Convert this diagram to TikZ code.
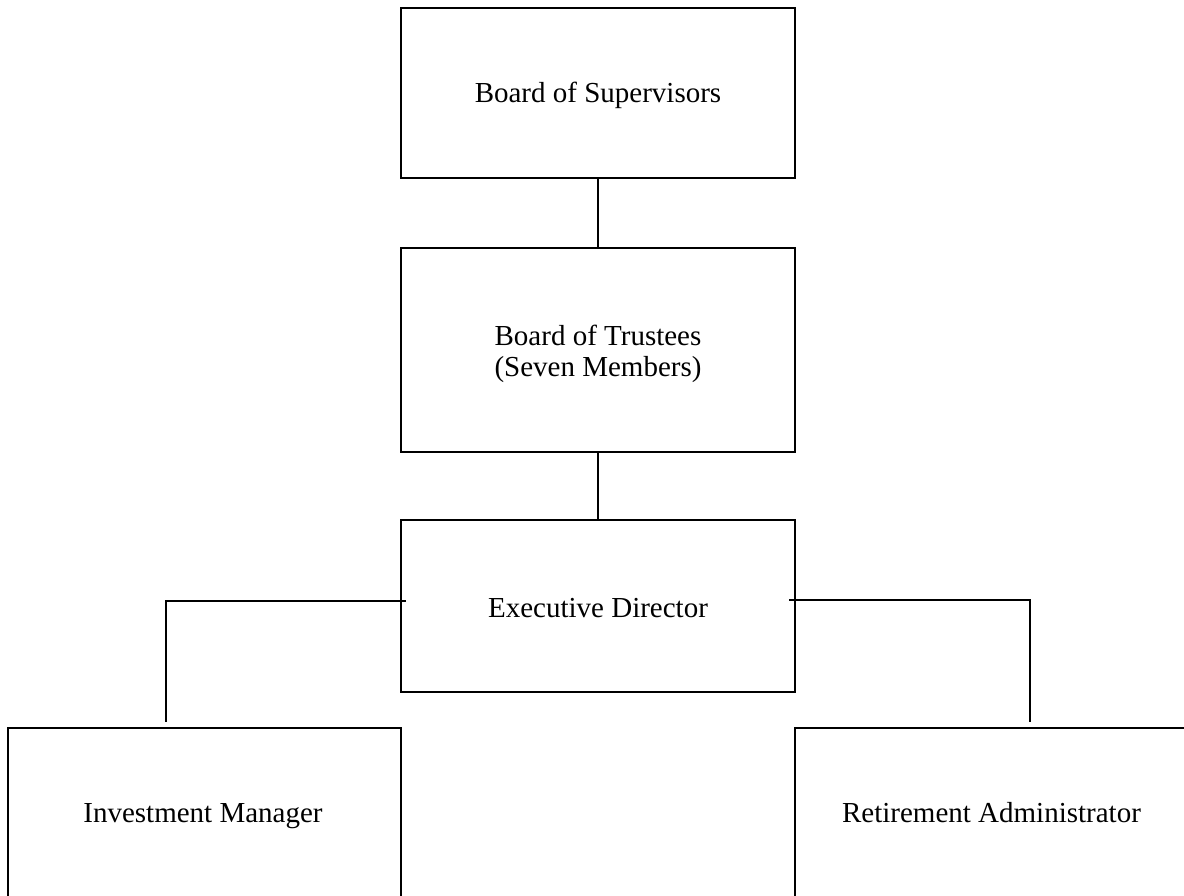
\documentclass[tikz,border=0pt]{standalone}
\usepackage{fontspec}
\setmainfont{Liberation Serif}
\usetikzlibrary{calc}
\begin{document}
\begin{tikzpicture}[x=1pt,y=-1pt,
  orgbox/.style={draw=black, line width=2pt, inner sep=0pt, outer sep=0pt},
  lbl/.style={anchor=base, inner sep=0pt, font=\fontsize{29}{31}\selectfont},
  conn/.style={draw=black, line width=2pt}]
\useasboundingbox (0,0) rectangle (1184,896);
\clip (0,0) rectangle (1184,896);
% boxes
\node[orgbox, minimum width=394pt, minimum height=170pt] (bos) at (598,93) {};
\node[orgbox, minimum width=394pt, minimum height=204pt] (bot) at (598,350) {};
\node[orgbox, minimum width=394pt, minimum height=172pt] (ed) at (598,606) {};
\node[orgbox, minimum width=393pt, minimum height=172pt] (im) at (204.5,814) {};
\node[orgbox, minimum width=393pt, minimum height=172pt] (ra) at (991.5,814) {};
% labels
\node[lbl] (bos-t) at ($(bos.center)+(0,10)$) {Board of Supervisors};
\node[lbl] (bot-t1) at ($(bot.center)+(0,-5)$) {Board of Trustees};
\node[lbl] (bot-t2) at ($(bot.center)+(0,26)$) {(Seven Members)};
\node[lbl] (ed-t) at ($(ed.center)+(0,11)$) {Executive Director};
\node[lbl] (im-t) at ($(im.center)+(-1.5,8.5)$) {Investment Manager};
\node[lbl] (ra-t) at ($(ra.center)+(0,8.5)$) {Retirement Administrator};
% connectors
\coordinate (lt) at (166,722);
\coordinate (rt) at (1030,722);
\draw[conn] (bos.south) -- (bot.north);
\draw[conn] (bot.south) -- (ed.north);
\draw[conn] ([shift={(5pt,5pt)}]ed.west) -| (lt);
\draw[conn] ([shift={(-6pt,6pt)}]ed.east) -| (rt);
\end{tikzpicture}
\end{document}
